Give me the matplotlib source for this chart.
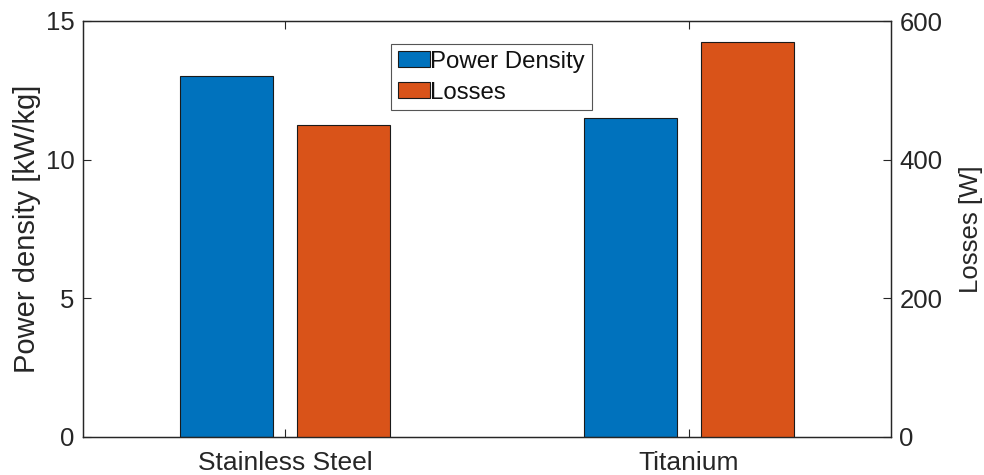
import matplotlib
matplotlib.use("Agg")
import matplotlib.pyplot as plt
import numpy as np

materials = ["Stainless Steel", "Titanium"]
power_density = [13.0, 11.5]   # kW/kg
losses = [450, 570]            # W

plt.rcParams["font.family"] = ["Liberation Sans", "DejaVu Sans"]
txt = "#262626"

fig = plt.figure(figsize=(9.84, 4.75), dpi=100)
ax = fig.add_axes([83 / 984, 38 / 475, 808 / 984, 416 / 475])
ax2 = ax.twinx()

x = np.arange(1, len(materials) + 1)
w = 0.23
off = 0.145
b1 = ax.bar(x - off, power_density, w, color="#0072BD", edgecolor="#1a1a1a",
            linewidth=0.8, label="Power Density")
b2 = ax2.bar(x + off, losses, w, color="#D95319", edgecolor="#1a1a1a",
             linewidth=0.8, label="Losses")

ax.set_xlim(0.5, 2.5)
ax.set_ylim(0, 15)
ax2.set_ylim(0, 600)
ax.set_yticks([0, 5, 10, 15])
ax2.set_yticks([0, 200, 400, 600])
ax.set_xticks(x)
ax.set_xticklabels(materials)

for a in (ax, ax2):
    for s in a.spines.values():
        s.set_color(txt)
        s.set_linewidth(0.9)
    a.tick_params(direction="in", length=6, width=0.8, color=txt,
                  labelcolor=txt, labelsize=18.5)
ax.tick_params(axis="x", top=True, pad=10, labelsize=19)
ax.tick_params(axis="y", pad=6)
ax2.tick_params(axis="y", pad=6)

ax.set_ylabel("Power density [kW/kg]", fontsize=21, color=txt, labelpad=3.5)
ax2.set_ylabel("Losses [W]", fontsize=18.5, color=txt, labelpad=12)

# legend lives on the twin axes so it is drawn above both sets of bars
leg = ax2.legend([b1, b2], ["Power Density", "Losses"], loc="upper left",
                 bbox_to_anchor=(0.381, 0.945), borderaxespad=0, fancybox=False,
                 framealpha=1, edgecolor="#555555", fontsize=17.3,
                 handlelength=1.35, handleheight=0.65, handletextpad=0.02,
                 labelspacing=0.38, borderpad=0.28)
leg.get_frame().set_linewidth(0.8)
for t in leg.get_texts():
    t.set_color("#111111")

fig.savefig("out.png", dpi=100)
